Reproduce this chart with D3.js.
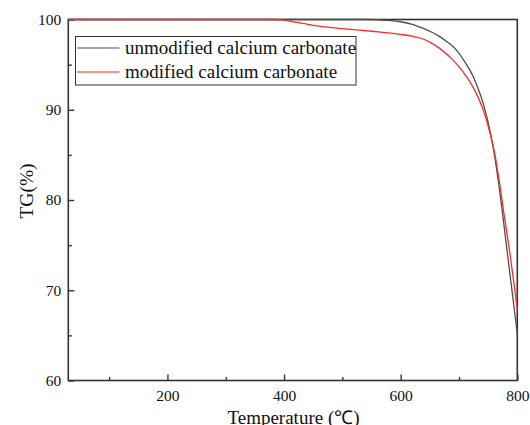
<!DOCTYPE html>
<html>
<head>
<meta charset="utf-8">
<script src="https://cdn.jsdelivr.net/npm/d3@7"></script>
<style>
  html, body { margin: 0; padding: 0; background: #fff; }
  svg { display: block; font-family: "Liberation Serif", "Times New Roman", serif; }
</style>
</head>
<body>
<svg id="chart" width="530" height="425"></svg>
<script>
// TG curves of calcium carbonate (temperature in °C, mass remaining in %)
const seriesNames = ["unmodified calcium carbonate", "modified calcium carbonate"];
const seriesColors = ["#4d4d4d", "#ff2a2a"];
const legendColors = ["#8a8a8a", "#ff6a6a"];

const unmodTemp = [30, 100, 200, 300, 400, 500, 540, 560, 580, 600, 620, 633, 650, 667, 680, 693, 710, 725, 733, 742, 750, 759, 770, 782, 791, 800];
const unmodTG   = [100, 100, 100, 100, 100, 100, 100, 99.97, 99.9, 99.75, 99.45, 99.15, 98.7, 98.1, 97.5, 96.8, 95.3, 93.6, 92.3, 90.6, 88.6, 85.7, 80.9, 74.6, 69.9, 65.2];

const modTemp = [30, 100, 200, 300, 380, 400, 420, 450, 500, 550, 600, 620, 633, 650, 667, 690, 707, 725, 742, 750, 762, 770, 778, 787.5, 795, 800];
const modTG   = [100, 100, 100, 100, 100, 99.92, 99.7, 99.35, 99.0, 98.7, 98.35, 98.15, 97.95, 97.5, 96.8, 95.5, 94.2, 92.4, 89.9, 88.2, 84.9, 81.7, 78.1, 74.0, 70.4, 67.8];

const xTicks = [200, 400, 600, 800];
const xMinorTicks = [100, 300, 500, 700];
const yTicks = [60, 70, 80, 90, 100];
const yMinorTicks = [65, 75, 85, 95];

const svg = d3.select("#chart");
const plotLeft = 68.3, plotRight = 517.3, plotTop = 19.5, plotBottom = 380.5;

const x = d3.scaleLinear().domain([30, 800]).range([plotLeft, plotRight]);
const y = d3.scaleLinear().domain([60, 100]).range([plotBottom, plotTop]);

const frameColor = "#333";

// frame
svg.append("rect")
  .attr("x", plotLeft).attr("y", plotTop)
  .attr("width", plotRight - plotLeft).attr("height", plotBottom - plotTop)
  .attr("fill", "none").attr("stroke", frameColor).attr("stroke-width", 1.6);

// bottom axis: inward ticks
const xAxis = svg.append("g").attr("transform", `translate(0,${plotBottom})`)
  .call(d3.axisBottom(x).tickValues(xTicks).tickSize(-6).tickPadding(9).tickFormat(d3.format("d")));
xAxis.select(".domain").remove();
xAxis.selectAll(".tick line").attr("stroke", frameColor).attr("stroke-width", 1.4);
xAxis.selectAll(".tick text").attr("font-size", 15.5).attr("fill", "#111")
  .attr("font-family", "Liberation Serif, serif");
svg.append("g").attr("transform", `translate(0,${plotBottom})`)
  .call(d3.axisBottom(x).tickValues(xMinorTicks).tickSize(-3.5).tickFormat(""))
  .call(g => g.select(".domain").remove())
  .call(g => g.selectAll(".tick line").attr("stroke", frameColor).attr("stroke-width", 1.4));

// left axis: inward ticks
const yAxis = svg.append("g").attr("transform", `translate(${plotLeft},0)`)
  .call(d3.axisLeft(y).tickValues(yTicks).tickSize(-6).tickPadding(7).tickFormat(d3.format("d")));
yAxis.select(".domain").remove();
yAxis.selectAll(".tick line").attr("stroke", frameColor).attr("stroke-width", 1.4);
yAxis.selectAll(".tick text").attr("font-size", 15.5).attr("fill", "#111")
  .attr("font-family", "Liberation Serif, serif");
svg.append("g").attr("transform", `translate(${plotLeft},0)`)
  .call(d3.axisLeft(y).tickValues(yMinorTicks).tickSize(-3.5).tickFormat(""))
  .call(g => g.select(".domain").remove())
  .call(g => g.selectAll(".tick line").attr("stroke", frameColor).attr("stroke-width", 1.4));

// axis titles
svg.append("text")
  .attr("x", 293.5).attr("y", 423.5)
  .attr("text-anchor", "middle").attr("font-size", 19).attr("fill", "#111")
  .text("Temperature (\u2103)");
svg.append("text")
  .attr("transform", `translate(33,191) rotate(-90)`)
  .attr("text-anchor", "middle").attr("font-size", 19.5).attr("fill", "#111")
  .text("TG(%)");

// curves
const line = d3.line()
  .x(d => x(d[0])).y(d => y(d[1]))
  .curve(d3.curveMonotoneX);

const series = [
  d3.zip(unmodTemp, unmodTG),
  d3.zip(modTemp, modTG)
];

series.forEach((pts, i) => {
  svg.append("path")
    .datum(pts)
    .attr("fill", "none")
    .attr("stroke", seriesColors[i])
    .attr("stroke-width", 1.3)
    .attr("d", line);
});

// legend
const lg = svg.append("g");
lg.append("rect")
  .attr("x", 75.5).attr("y", 36.5).attr("width", 280.5).attr("height", 48.5)
  .attr("fill", "#fff").attr("stroke", frameColor).attr("stroke-width", 1);
seriesNames.forEach((name, i) => {
  const yy = 48 + i * 24;
  lg.append("line")
    .attr("x1", 77).attr("x2", 119.5).attr("y1", yy).attr("y2", yy)
    .attr("stroke", legendColors[i]).attr("stroke-width", 1.3);
  lg.append("text")
    .attr("x", 125).attr("y", yy + 6.3)
    .attr("font-size", 19).attr("fill", "#111")
    .text(name);
});
</script>
</body>
</html>
